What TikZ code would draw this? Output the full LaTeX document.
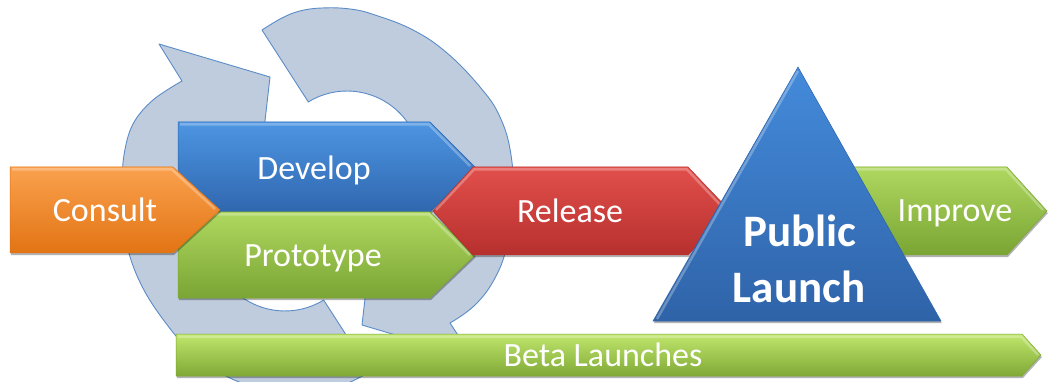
\documentclass[tikz,border=0pt]{standalone}
\usepackage{fontspec}
\setmainfont{Carlito}
\usetikzlibrary{shadows}

\definecolor{ringfill}{HTML}{BFCCDD}
\definecolor{ringline}{HTML}{5B8CC8}
\definecolor{orgT}{HTML}{FAA14E}
\definecolor{orgM}{HTML}{F68D2C}
\definecolor{orgB}{HTML}{E27414}
\definecolor{bluT}{HTML}{4D95E2}
\definecolor{bluM}{HTML}{3C7ECD}
\definecolor{bluB}{HTML}{3067AF}
\definecolor{grnT}{HTML}{AED85F}
\definecolor{grnM}{HTML}{94BF45}
\definecolor{grnB}{HTML}{7BA534}
\definecolor{redT}{HTML}{E14F4B}
\definecolor{redM}{HTML}{D23E3B}
\definecolor{redB}{HTML}{B7302E}
\definecolor{triT}{HTML}{448BDB}
\definecolor{triB}{HTML}{2F63A8}
\definecolor{betT}{HTML}{C0E66C}
\definecolor{betM}{HTML}{9CC84B}
\definecolor{betB}{HTML}{7FA936}

\begin{document}
\begin{tikzpicture}[x=1pt,y=-1pt,
  ring/.style={fill=ringfill, draw=ringline, line width=0.9pt, line join=round},
  box/.style={line width=0.5pt, line join=miter,
    drop shadow={shadow xshift=0.8pt, shadow yshift=-2.2pt, opacity=0.3, fill=black}},
  orangebox/.style={box, draw=orgB, top color=orgT, middle color=orgM, bottom color=orgB},
  bluebox/.style={box, draw=bluB, top color=bluT, middle color=bluM, bottom color=bluB},
  greenbox/.style={box, draw=grnB, top color=grnT, middle color=grnM, bottom color=grnB},
  redbox/.style={box, draw=redB, top color=redT, middle color=redM, bottom color=redB},
  tribox/.style={box, draw=triB, top color=triT, bottom color=triB},
  betabox/.style={box, draw=betB, top color=betT, middle color=betM, bottom color=betB},
  hilite/.style={draw=white, draw opacity=0.28, line width=2.5pt, line join=miter},
  label/.style={text=white, font=\fontsize{34}{40}\selectfont, inner sep=0pt, anchor=base},
  biglabel/.style={text=white, font=\fontsize{45}{54}\selectfont\bfseries, inner sep=0pt, anchor=base},
]
\useasboundingbox (0,0) rectangle (1050,382);
\clip (0,0) rectangle (1050,382);
\fill[white] (0,0) rectangle (1050,382);

% cycle arrow, left half: tail at the bottom, head at the upper left
\path[ring] (323.7,300.1) -- (370,372)
  -- plot[smooth, tension=0.6] coordinates {(370,372) (335,388) (290,394) (250,386) (215,370)
     (187,348) (165,322) (145,292) (131,260) (123,225) (122,190) (124,155) (133,124)
     (153,100) (182,81)}
  -- (159,44) -- (270,77) -- (256,200) -- (241.9,176.8)
  arc[start angle=234.4, end angle=58.5, radius=74] -- cycle;

% cycle arrow, right half: tail at the top, head at the bottom
\path[ring] (308.3,101.9) -- (262,30)
  -- plot[smooth, tension=0.7] coordinates {(262,30) (282,18) (300,11) (322,8) (350,9)
     (375,15) (413,30) (447,53) (480,87) (500,117) (511,155) (513,200) (507,245)
     (495,278) (475,305) (450,323)}
  -- (473,358) -- (362,325) -- (376,202) -- (390.1,225.2)
  arc[start angle=54.4, end angle=-121.5, radius=74] -- cycle;

% process arrows, each with a light bevel along its upper edge
\path[bluebox]  (178,122) -- (430,122) -- (475,167) -- (430,212) -- (178,212) -- cycle;
\path[hilite]   (180,124.5) -- (429,124.5) -- (470,166);
\path[greenbox] (178,212) -- (430,212) -- (475,255) -- (430,298) -- (178,298) -- cycle;
\path[hilite]   (180,214.5) -- (429,214.5) -- (470,255);
\path[redbox]   (433,211) -- (473,167) -- (688,167) -- (730,211) -- (688,255) -- (473,255) -- cycle;
\path[hilite]   (436,210) -- (474,169.5) -- (687,169.5) -- (726,211);
\path[orangebox] (10,167) -- (173,167) -- (220,210) -- (173,253) -- (10,253) -- cycle;
\path[hilite]   (12,169.5) -- (172,169.5) -- (215,209);
\path[greenbox] (820,167) -- (1007,167) -- (1047,211) -- (1007,255) -- (820,255) -- cycle;
\path[hilite]   (822,169.5) -- (1006,169.5) -- (1043,210);
\path[tribox]   (798,67) -- (941,321) -- (653,321) -- cycle;
\path[hilite]   (657,319) -- (798,71);
\path[betabox]  (176,334) -- (1022,334) -- (1041,355) -- (1022,376) -- (176,376) -- cycle;
\path[hilite]   (178,336.5) -- (1021,336.5) -- (1038,355);

% labels
\node[label] (consult)   at (105,222) {Consult};
\node[label] (develop)   at (314,180) {Develop};
\node[label] (prototype) at (313,267) {Prototype};
\node[label] (release)   at (570,223) {Release};
\node[label] (improve)   at (955,222) {Improve};
\node[label] (beta)      at (603,366) {Beta Launches};
\node[biglabel] (public) at (800,247) {Public};
\node[biglabel] (launch) at (799,302) {Launch};
\end{tikzpicture}
\end{document}
